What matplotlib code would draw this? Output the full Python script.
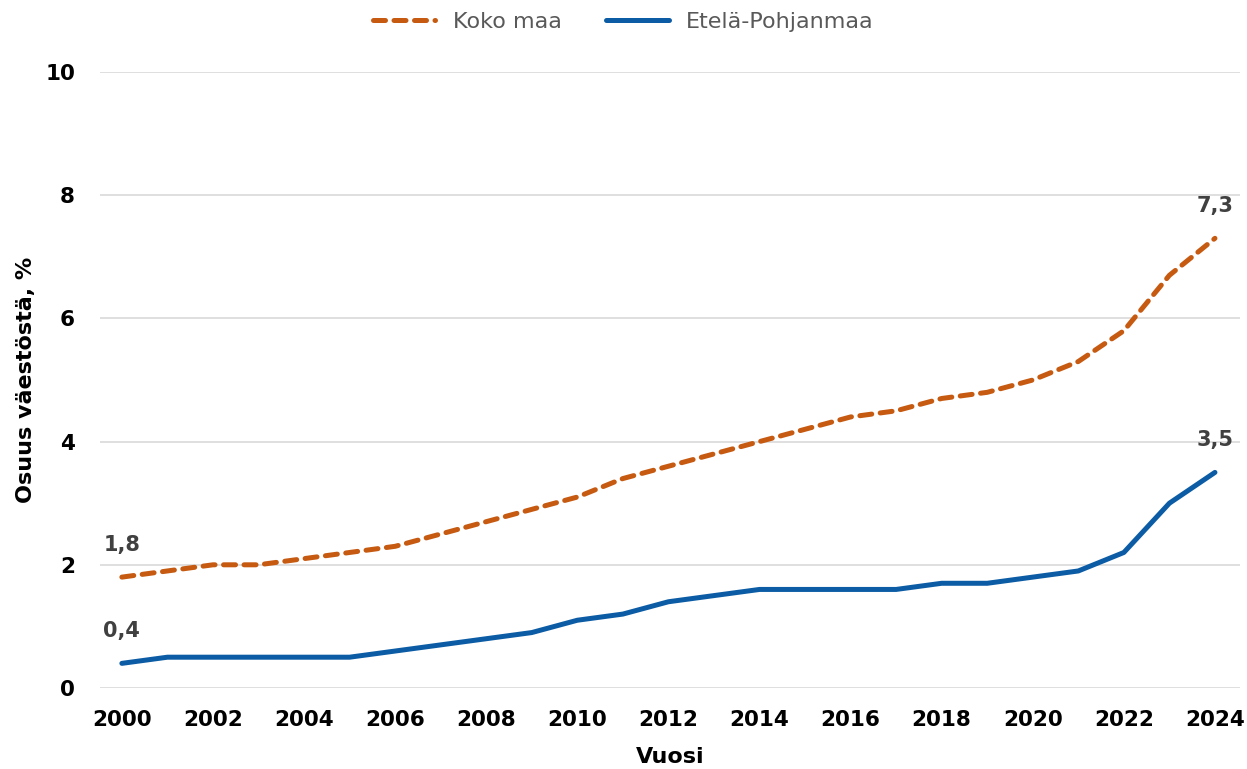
import matplotlib
matplotlib.use("Agg")
import matplotlib.pyplot as plt

# data
years = list(range(2000, 2025))
koko_maa = [1.8, 1.9, 2.0, 2.0, 2.1, 2.2, 2.3, 2.5, 2.7, 2.9, 3.1, 3.4, 3.6,
            3.8, 4.0, 4.2, 4.4, 4.5, 4.7, 4.8, 5.0, 5.3, 5.8, 6.7, 7.3]
etela_pohjanmaa = [0.4, 0.5, 0.5, 0.5, 0.5, 0.5, 0.6, 0.7, 0.8, 0.9, 1.1, 1.2, 1.4,
                   1.5, 1.6, 1.6, 1.6, 1.6, 1.7, 1.7, 1.8, 1.9, 2.2, 3.0, 3.5]
x_ticks = list(range(2000, 2025, 2))
y_ticks = [0, 2, 4, 6, 8, 10]

orange = "#C65A11"
blue = "#0B5CA5"

plt.rcParams["font.family"] = ["DejaVu Sans"]

fig = plt.figure(figsize=(12.47, 7.69), dpi=100)
ax = fig.add_axes([100 / 1247, 1 - 688 / 769, 1140 / 1247, 616 / 769])

ax.yaxis.grid(True, color="#D9D9D9", linewidth=1.2)
ax.set_axisbelow(True)

l1, = ax.plot(years, koko_maa, color=orange, linewidth=3.6, dashes=(2.4, 1.7),
              dash_capstyle="round", label="Koko maa")
l2, = ax.plot(years, etela_pohjanmaa, color=blue, linewidth=3.6,
              solid_capstyle="round", label="Etelä-Pohjanmaa")

# end point labels
for series in (koko_maa, etela_pohjanmaa):
    for i in (0, -1):
        ax.annotate(f"{series[i]:.1f}".replace(".", ","), (years[i], series[i]),
                    xytext=(0, 16), textcoords="offset points", ha="center",
                    va="bottom", fontsize=15, fontweight="bold", color="#404040")

ax.set_xlim(1999.52, 2024.55)
ax.set_ylim(0, 10)
ax.set_xticks(x_ticks)
ax.set_yticks(y_ticks)
ax.tick_params(length=0, labelsize=15.5)
for lab in ax.get_xticklabels() + ax.get_yticklabels():
    lab.set_fontweight("bold")
ax.tick_params(axis="x", pad=16)
ax.tick_params(axis="y", pad=18)
for s in ax.spines.values():
    s.set_visible(False)

ax.set_xlabel("Vuosi", fontsize=16, fontweight="bold")
ax.xaxis.set_label_coords(0.5, -(747 - 688) / 616)
ax.set_ylabel("Osuus väestöstä, %", fontsize=16, fontweight="bold")
ax.yaxis.set_label_coords(-(100 - 36) / 1140, 0.5)

fig.legend(handles=[l1, l2], loc="center", bbox_to_anchor=(0.5, 1 - 22 / 769),
           ncol=2, frameon=False, fontsize=16, handlelength=2.8,
           columnspacing=2.0, labelcolor="#595959")

fig.savefig("out.png", dpi=100)
